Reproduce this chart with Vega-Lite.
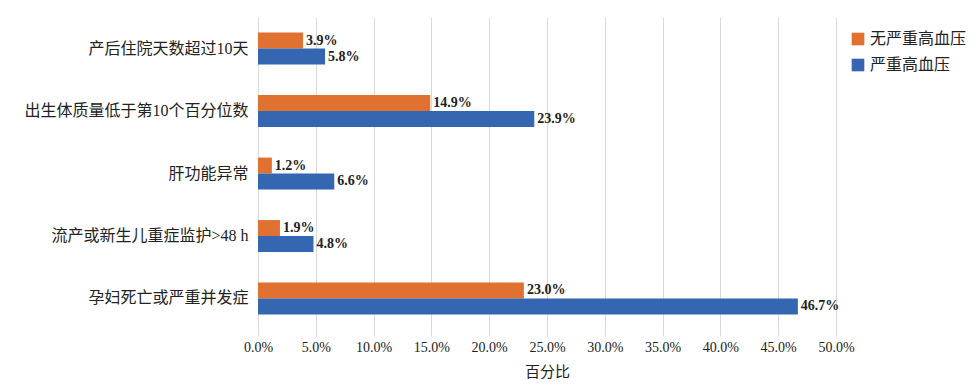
{
  "$schema": "https://vega.github.io/schema/vega-lite/v6.json",
  "autosize": {"type": "none"},
  "padding": {"left": 258, "top": 17, "right": 140, "bottom": 59},
  "width": 578,
  "height": 313,
  "background": "white",
  "config": {
    "font": "Liberation Serif, Noto Sans CJK SC",
    "view": {"stroke": null}
  },
  "data": {
    "values": [
      {"cat": "产后住院天数超过10天", "group": "无严重高血压", "v": 0.039},
      {"cat": "产后住院天数超过10天", "group": "严重高血压", "v": 0.058},
      {"cat": "出生体质量低于第10个百分位数", "group": "无严重高血压", "v": 0.149},
      {"cat": "出生体质量低于第10个百分位数", "group": "严重高血压", "v": 0.239},
      {"cat": "肝功能异常", "group": "无严重高血压", "v": 0.012},
      {"cat": "肝功能异常", "group": "严重高血压", "v": 0.066},
      {"cat": "流产或新生儿重症监护>48 h", "group": "无严重高血压", "v": 0.019},
      {"cat": "流产或新生儿重症监护>48 h", "group": "严重高血压", "v": 0.048},
      {"cat": "孕妇死亡或严重并发症", "group": "无严重高血压", "v": 0.23},
      {"cat": "孕妇死亡或严重并发症", "group": "严重高血压", "v": 0.467}
    ]
  },
  "encoding": {
    "y": {
      "field": "cat", "type": "nominal", "sort": null,
      "scale": {"paddingInner": 0.49, "paddingOuter": 0.25},
      "axis": {
        "title": null, "ticks": false, "domain": false,
        "labelFontSize": 16, "labelColor": "#222", "labelPadding": 10,
        "labelLimit": 300, "labelFont": "Liberation Serif, Noto Sans CJK SC"
      }
    },
    "yOffset": {
      "field": "group", "type": "nominal",
      "sort": ["无严重高血压", "严重高血压"]
    },
    "x": {
      "field": "v", "type": "quantitative",
      "scale": {"domain": [0, 0.5], "nice": false},
      "axis": {
        "title": "百分比", "format": ".1%",
        "values": [0, 0.05, 0.1, 0.15, 0.2, 0.25, 0.3, 0.35, 0.4, 0.45, 0.5],
        "labelOverlap": false, "labelFlush": false,
        "domain": false, "ticks": true, "tickColor": "#d9d9d9", "tickSize": 6,
        "gridColor": "#d9d9d9", "labelFontSize": 14, "labelColor": "#222",
        "labelPadding": 4,
        "titleFontSize": 15, "titleFontWeight": "normal", "titleColor": "#222",
        "titlePadding": 10
      }
    }
  },
  "layer": [
    {
      "mark": {"type": "bar"},
      "encoding": {
        "color": {
          "field": "group", "type": "nominal",
          "sort": ["无严重高血压", "严重高血压"],
          "scale": {"domain": ["无严重高血压", "严重高血压"], "range": ["#E07130", "#3566B1"]},
          "legend": {
            "title": null, "orient": "none", "legendX": 592, "legendY": 14,
            "symbolType": "square", "symbolSize": 160, "symbolStrokeWidth": 0,
            "labelFontSize": 16, "labelColor": "#222", "rowPadding": 10,
            "labelFont": "Liberation Serif, Noto Sans CJK SC"
          }
        }
      }
    },
    {
      "mark": {"type": "text", "align": "left", "dx": 3, "fontWeight": "bold", "fontSize": 14, "color": "#222"},
      "encoding": {
        "text": {"field": "v", "type": "quantitative", "format": ".1%"}
      }
    }
  ]
}
